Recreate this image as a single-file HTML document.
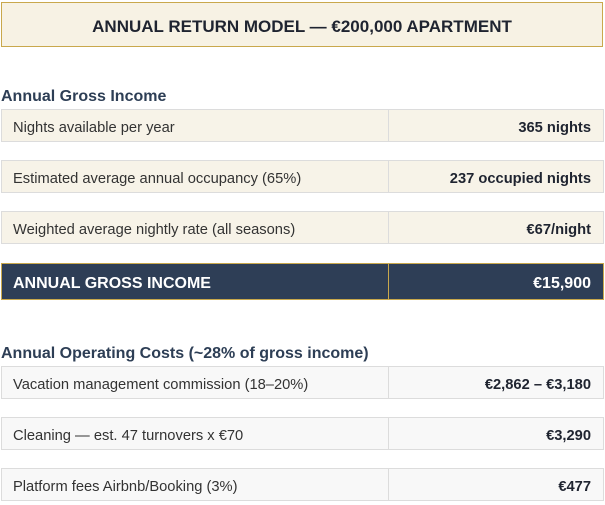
<!DOCTYPE html>
<html><head><meta charset="utf-8"><style>
body{margin:0;width:605px;height:500px;overflow:hidden;background:#fff;font-family:"Liberation Sans",sans-serif;position:relative}
.t{position:absolute;left:1px;top:2px;width:600px;height:43px;background:#f7f2e4;border:1px solid #c9a84c;text-align:center;line-height:47px;font-weight:bold;font-size:17px;color:#1f2430}
.h{position:absolute;left:1px;font-weight:bold;font-size:16px;color:#2d3e55}
.r{position:absolute;left:1px;width:601px;height:31px;border:1px solid #dcdcdc;font-size:14.7px;color:#333}
.r .a{position:absolute;left:0;top:0;width:375px;height:31px;line-height:36px;padding-left:11px;border-right:1px solid #dcdcdc}
.r .b{position:absolute;right:12px;top:0;line-height:36px;font-weight:bold;color:#1f2430}
.c{background:#f7f3e8}.g{background:#f8f8f8}
.d{background:#2e3e56;border-color:#c9a84c;height:35px;color:#fff;font-weight:bold;font-size:16px}
.d .a{height:35px;line-height:39px;border-right-color:#c9a84c}
.d .b{line-height:39px;color:#fff}
</style></head><body>
<div class="t">ANNUAL RETURN MODEL — €200,000 APARTMENT</div>
<div class="h" style="top:88px">Annual Gross Income</div>
<div class="r c" style="top:109px"><div class="a">Nights available per year</div><div class="b">365 nights</div></div>
<div class="r c" style="top:160px"><div class="a">Estimated average annual occupancy (65%)</div><div class="b">237 occupied nights</div></div>
<div class="r c" style="top:211px"><div class="a">Weighted average nightly rate (all seasons)</div><div class="b">€67/night</div></div>
<div class="r d" style="top:263px"><div class="a">ANNUAL GROSS INCOME</div><div class="b">€15,900</div></div>
<div class="h" style="top:345px">Annual Operating Costs (~28% of gross income)</div>
<div class="r g" style="top:366px"><div class="a">Vacation management commission (18–20%)</div><div class="b">€2,862 – €3,180</div></div>
<div class="r g" style="top:417px"><div class="a">Cleaning — est. 47 turnovers x €70</div><div class="b">€3,290</div></div>
<div class="r g" style="top:468px"><div class="a">Platform fees Airbnb/Booking (3%)</div><div class="b">€477</div></div>
</body></html>
